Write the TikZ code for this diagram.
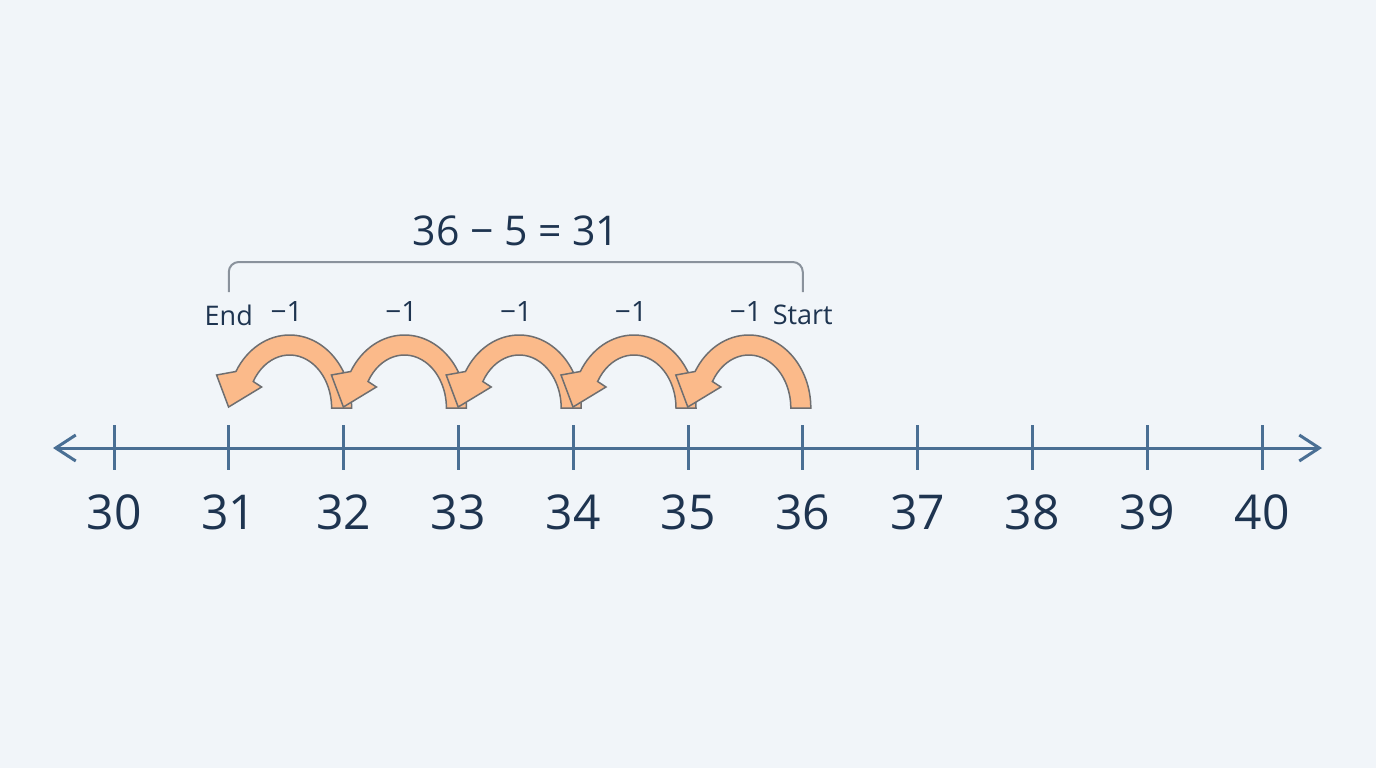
\documentclass[tikz,border=0pt]{standalone}
\usepackage{fontspec}
\setmainfont{Open Sans}
\usetikzlibrary{arrows.meta}
\definecolor{bgc}{RGB}{241,245,249}
\definecolor{axisc}{RGB}{74,111,148}
\definecolor{txtc}{RGB}{30,52,80}
\definecolor{orangec}{RGB}{251,186,138}
\definecolor{edgec}{RGB}{110,110,112}
\definecolor{brkc}{RGB}{138,146,156}
\tikzset{
  axisline/.style={draw=axisc, line width=3pt},
  tickline/.style={draw=axisc, line width=3pt},
  numlab/.style={text=txtc, font=\fontsize{48}{52}\selectfont, anchor=center, inner sep=0pt},
  steplab/.style={text=txtc, font=\fontsize{28}{30}\selectfont, anchor=center, inner sep=0pt},
  wordlab/.style={text=txtc, font=\fontsize{27}{30}\selectfont, anchor=center, inner sep=0pt},
  eqlab/.style={text=txtc, font=\fontsize{41}{44}\selectfont, anchor=center, inner sep=0pt},
  jumpshape/.style={fill=orangec, draw=edgec, line width=1.5pt, line join=miter},
  brk/.style={draw=brkc, line width=2pt, rounded corners=10pt},
}
\begin{document}
\begin{tikzpicture}[x=1pt,y=-1pt]
\useasboundingbox (0,0) rectangle (1376,768);
\fill[bgc] (0,0) rectangle (1376,768);
% axis ends
\coordinate (aL) at (53,448);
\coordinate (aR) at (1322,448);
\draw[axisline, {Straight Barb[length=20pt,width=26pt]}-{Straight Barb[length=20pt,width=26pt]}] (aL) -- (aR);
% ticks and numbers
\foreach \n in {30,...,40}{
  \coordinate (t\n) at ({114+114.8*(\n-30)},448);
  \draw[tickline] ([yshift=23pt]t\n) -- ([yshift=-22pt]t\n);
  \node[numlab] (n\n) at ([yshift=-64pt]t\n) {\n};
}
% jumps, drawn from left to right so each head lies over the next leg
\foreach \n in {32,...,36}{
  \begin{scope}[shift={(t\n)}]
    \filldraw[jumpshape] (8,-40) arc[start angle=0,end angle=-150,x radius=62,y radius=73]
      -- (-127,-73) -- (-115,-41) -- (-82,-61)
      -- ({-54-36.37},-66.5) arc[start angle=-150,end angle=0,x radius=42,y radius=53] -- cycle;
    \node[steplab] (m\n) at (-57,-136) {−1};
  \end{scope}
}
% start / end labels
\node[wordlab] (endl) at ([yshift=133pt]t31) {End};
\node[wordlab] (startl) at ([yshift=133pt]t36) {Start};
% bracket
\draw[brk] ([yshift=156pt]t31) -- ([yshift=186pt]t31) -- ([yshift=186pt]t36) -- ([yshift=156pt]t36);
\node[eqlab] (eq) at (516,231) {36 − 5 = 31};
\end{tikzpicture}
\end{document}
